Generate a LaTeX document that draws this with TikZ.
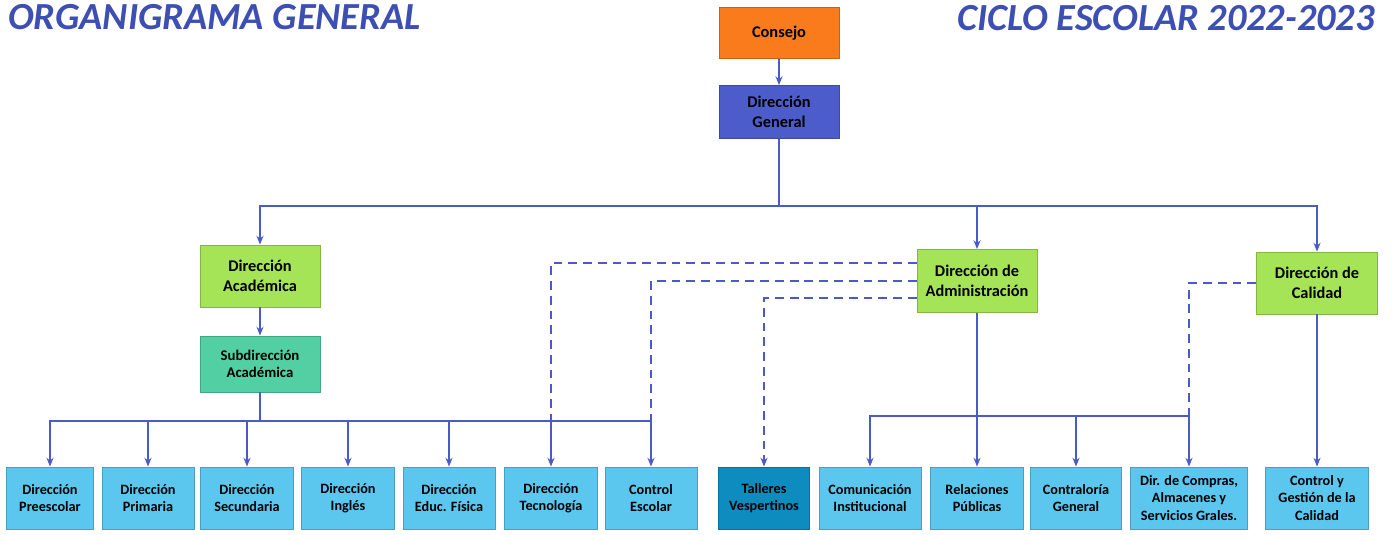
\documentclass[tikz,border=0pt]{standalone}
\usepackage{fontspec}
\setmainfont{Carlito}
\usepackage{xcolor}
\usetikzlibrary{arrows.meta}

\definecolor{titleblue}{HTML}{3D4FB3}
\definecolor{linkblue}{HTML}{4A5AC6}
\definecolor{boxorange}{HTML}{F97B1C}
\definecolor{boxblue}{HTML}{4C5DCB}
\definecolor{boxgreen}{HTML}{A5E457}
\definecolor{boxteal}{HTML}{53CFA4}
\definecolor{boxsky}{HTML}{5BC7EF}
\definecolor{boxdeep}{HTML}{0D8CBF}

\begin{document}
\begin{tikzpicture}[x=0.02cm, y=-0.02cm,
  unit/.style={draw=#1!80!black, fill=#1, line width=0.5pt, align=center, inner sep=1pt},
  headbox/.style={unit=#1, minimum width=2.4cm, font=\bfseries\fontsize{9.3}{11.2}\selectfont},
  leafbox/.style={unit=#1, minimum height=1.24cm, font=\bfseries\fontsize{8.1}{9.9}\selectfont},
  link/.style={draw=linkblue, line width=1pt},
  arr/.style={-{Stealth[length=5pt,width=4pt]}},
  dashlink/.style={link, line width=1.1pt, dash pattern=on 5pt off 3.4pt},
  heading/.style={inner sep=0, text=titleblue, font=\bfseries\itshape\fontsize{21.8}{26}\selectfont}]
  \useasboundingbox (0,0) rectangle (1392,534);

  % Titles
  \node[heading, anchor=base west] (titulo) at (8,30) {ORGANIGRAMA GENERAL};
  \node[heading, anchor=base east] (ciclo) at (1375,31) {CICLO ESCOLAR 2022-2023};

  % Upper levels
  \node[headbox=boxorange, minimum height=1.02cm] (consejo) at (779,33) {Consejo};
  \node[headbox=boxblue, minimum height=1.06cm] (general) at (779,112) {Dirección\\General};
  \node[headbox=boxgreen, minimum height=1.24cm] (academica) at (260,276) {Dirección\\Académica};
  \node[headbox=boxteal, minimum height=1.12cm, font=\bfseries\fontsize{8.4}{9.9}\selectfont] (subacad) at (260,364) {Subdirección\\Académica};
  \node[headbox=boxgreen, minimum height=1.26cm] (admin) at (977,281) {Dirección de\\Administración};
  \node[headbox=boxgreen, minimum width=2.42cm, minimum height=1.24cm] (calidad) at (1317,283) {Dirección de\\Calidad};

  % Bottom row
  \node[leafbox=boxsky, minimum width=1.74cm] (preescolar) at (50,498) {Dirección\\Preescolar};
  \node[leafbox=boxsky, minimum width=1.84cm] (primaria) at (148,498) {Dirección\\Primaria};
  \node[leafbox=boxsky, minimum width=1.86cm] (secundaria) at (247,498) {Dirección\\Secundaria};
  \node[leafbox=boxsky, minimum width=1.86cm] (ingles) at (348,498) {Dirección\\Inglés};
  \node[leafbox=boxsky, minimum width=1.84cm] (fisica) at (449,498) {Dirección\\Educ. Física};
  \node[leafbox=boxsky, minimum width=1.86cm] (tecnologia) at (551,498) {Dirección\\Tecnología};
  \node[leafbox=boxsky, minimum width=1.84cm] (escolar) at (651,498) {Control\\Escolar};
  \node[leafbox=boxdeep, minimum width=1.82cm] (talleres) at (764,498) {Talleres\\Vespertinos};
  \node[leafbox=boxsky, minimum width=2.04cm] (comunicacion) at (870,498) {Comunicación\\Institucional};
  \node[leafbox=boxsky, minimum width=1.86cm] (relaciones) at (977,498) {Relaciones\\Públicas};
  \node[leafbox=boxsky, minimum width=1.82cm] (contraloria) at (1076,498) {Contraloría\\General};
  \node[leafbox=boxsky, minimum width=2.34cm, font=\bfseries\fontsize{8.1}{10.2}\selectfont] (compras) at (1189,498) {Dir. de Compras,\\Almacenes y\\Servicios Grales.};
  \node[leafbox=boxsky, minimum width=2.06cm, font=\bfseries\fontsize{8.1}{10.2}\selectfont] (gestion) at (1317,498) {Control y\\Gestión de la\\Calidad};

  % Solid lines
  \draw[link,arr] (consejo) -- (general);
  \coordinate (busG) at (779,206);
  \draw[link] (general) -- (busG);
  \draw[link,arr] (busG) -| (academica);
  \draw[link,arr] (busG) -| (admin);
  \draw[link,arr] (busG) -| (calidad);

  \draw[link,arr] (academica) -- (subacad);
  \coordinate (busA) at (260,421);
  \draw[link] (subacad) -- (busA);
  \foreach \n in {preescolar,primaria,secundaria,ingles,fisica,tecnologia,escolar}
    \draw[link,arr] (busA) -| (\n);

  \coordinate (busB) at (977,416);
  \draw[link] (admin) -- (busB);
  \foreach \n in {comunicacion,relaciones,contraloria,compras}
    \draw[link,arr] (busB) -| (\n);

  \draw[link,arr] (calidad) -- (gestion);

  % Dashed lines
  \draw[dashlink] (admin.west |- 0,263) -| (tecnologia.north |- busA);
  \draw[dashlink] (admin.west) -| (escolar.north |- busA);
  \draw[dashlink,arr] (admin.west |- 0,298) -| (talleres);
  \draw[dashlink] (calidad.west) -| (compras.north |- busB);
\end{tikzpicture}
\end{document}
